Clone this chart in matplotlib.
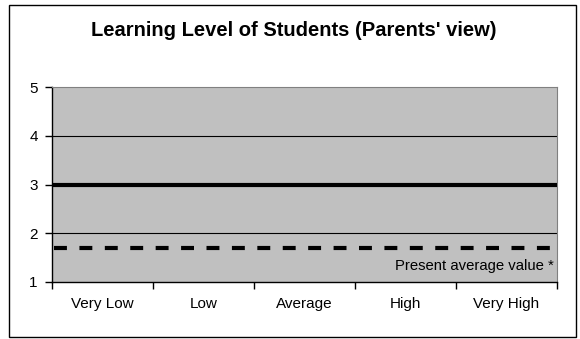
import matplotlib.pyplot as plt
from matplotlib.patches import Rectangle

plt.rcParams['font.family'] = ['Liberation Sans', 'DejaVu Sans']

categories = ['Very Low', 'Low', 'Average', 'High', 'Very High']
y_ticks = [1, 2, 3, 4, 5]
expected_level = 3.0      # solid line
present_average = 1.7     # dashed line
note = 'Present average value *'

fig = plt.figure(figsize=(5.8, 3.39), dpi=100)
fig.patch.set_facecolor('white')

# chart border
fig.patches.append(Rectangle((9 / 580, 1 - 337 / 339), 567 / 580, 332 / 339,
                             transform=fig.transFigure, fill=False,
                             edgecolor='black', linewidth=1.0))

ax = fig.add_axes([0.0891, 0.169, 0.8712, 0.5735])
ax.set_facecolor('#c0c0c0')
ax.set_xlim(0, len(categories))
ax.set_ylim(1, 5)

for v in y_ticks[1:-1]:
    ax.axhline(v, color='black', linewidth=0.8, zorder=1)

ax.axhline(expected_level, color='black', linewidth=3, zorder=3)
ax.axhline(present_average, xmin=0.005, xmax=1.0, color='black', linewidth=3,
           linestyle=(0, (3.1, 3.0)), zorder=3, clip_on=False)

ax.text(4.97, 1.32, note, ha='right', va='center', fontsize=10.7)

ax.set_yticks(y_ticks)
ax.set_yticklabels([str(v) for v in y_ticks], fontsize=11)
ax.set_xticks(range(len(categories) + 1))
ax.set_xticklabels([])
ax.set_xticks([i + 0.5 for i in range(len(categories))], minor=True)
ax.set_xticklabels(categories, minor=True, fontsize=11)
ax.tick_params(axis='x', which='minor', length=0, pad=11)
ax.tick_params(axis='x', which='major', length=5, direction='out', width=1)
ax.tick_params(axis='y', length=5, width=1, pad=5)

for side in ['top', 'right']:
    ax.spines[side].set_color('#808080')
for side in ['left', 'bottom']:
    ax.spines[side].set_color('black')
    ax.spines[side].set_linewidth(1)

fig.text(294 / 580, 1 - 31 / 339, "Learning Level of Students (Parents' view)",
         ha='center', va='center', fontsize=14.5, fontweight='bold')

fig.savefig('out.png', dpi=100)
